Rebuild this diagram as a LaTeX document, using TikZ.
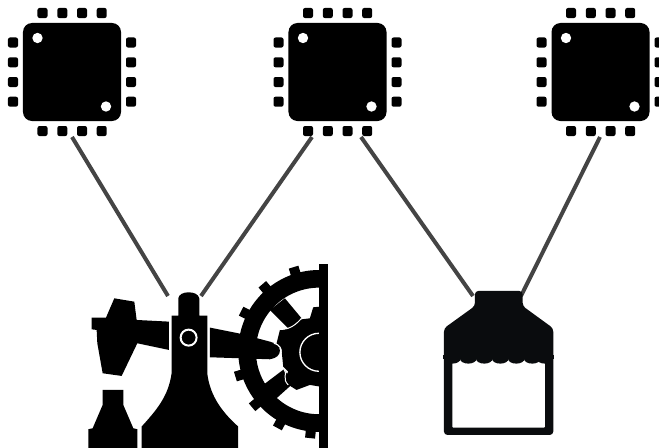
\documentclass[tikz,border=0pt]{standalone}
\usepackage{tikz}
\usetikzlibrary{calc}
\definecolor{wirecol}{HTML}{444444}
\definecolor{bottlecol}{HTML}{0A0C0E}
\tikzset{
  chipbody/.style={draw=none, fill=black, rounded corners=0.27cm, minimum size=2.94cm, inner sep=0pt},
  chippin/.style={draw=none, fill=black, rounded corners=0.06cm, minimum size=0.3cm, inner sep=0pt},
  chipdot/.style={circle, draw=none, fill=white, minimum size=0.31cm, inner sep=0pt},
  wire/.style={draw=wirecol, line width=0.12cm},
  seam/.style={draw=white, line width=0.03cm}
}

\begin{document}
\begin{tikzpicture}[x=0.03cm, y=-0.03cm]
  \useasboundingbox (0,0) rectangle (659,448);

  % Define nodes

  \foreach \name/\cx in {chipa/72, chipb/337.5, chipc/600.5} {
    \node[chipbody] (\name) at (\cx, 72) {};
    \node[chipdot] (\name-dota) at (\cx-34.5, 38) {};
    \node[chipdot] (\name-dotb) at (\cx+34, 106.5) {};
    \foreach \i/\off in {1/-29.5, 2/-9.7, 3/10, 4/29.7} {
      \node[chippin] (\name-top\i) at (\cx+\off, 13) {};
      \node[chippin] (\name-bot\i) at (\cx+\off, 131) {};
      \node[chippin] (\name-lft\i) at (\cx-59, 72+\off) {};
      \node[chippin] (\name-rgt\i) at (\cx+59, 72+\off) {};
    }
  }

  \coordinate (chipaout) at (72, 137);
  \coordinate (chipbouta) at (312, 137);
  \coordinate (chipboutb) at (361, 137);
  \coordinate (chipcout) at (600, 137);
  \coordinate (pumpl) at (168, 296);
  \coordinate (pumpr) at (201, 296);
  \coordinate (bottlel) at (473, 296);
  \coordinate (bottler) at (521, 296);

  % Draw wires
  \draw[wire] (chipaout) -- (pumpl);
  \draw[wire] (chipbouta) -- (pumpr);
  \draw[wire] (chipboutb) -- (bottlel);
  \draw[wire] (chipcout) -- (bottler);

  % Pump with gear wheel
  \begin{scope}[shift={(80,250)}, x=0.01cm, y=-0.01cm]
    \begin{scope}
      \clip (400,0) rectangle (717,594);
      \fill[black, even odd rule] (718,303) circle (243) (718,303) circle (190);
      \foreach \a in {107, 130.5, 153, 197, 220, 241.5, 264} {
        \draw[black, line width=0.3cm] ($(718,303)+(-\a:235)$) -- ($(718,303)+(-\a:263)$);
      }
      \fill[black] (570,180) -- (615,145) -- (665,205) -- (630,240) -- cycle;
      \fill[black] (550,405) -- (612,358) -- (640,400) -- (590,445) -- cycle;
      \fill[black] (720,170) -- (700,172) -- (690,205) -- (650,210) -- (630,236) -- (600,240)
        -- (590,280) -- (605,300) -- (610,350) -- (625,365) -- (610,395) -- (650,420)
        -- (690,405) -- (720,410) -- cycle;
      \draw[seam, line width=0.04cm] (717,250) arc[start angle=-90, end angle=-270, radius=57];
      \draw[seam] (665,205) .. controls (650,222) and (630,240) .. (600,238);
      \draw[seam] (612,358) .. controls (625,370) and (605,385) .. (625,405);
    \end{scope}
    \fill[black] (390,233) -- (475,250) -- (570,275) .. controls (590,280) and (600,290) .. (600,302)
      .. controls (600,315) and (590,325) .. (570,328) -- (390,322) -- cycle;
    \draw[seam] (582,280) .. controls (600,285) and (606,295) .. (604,310);
    \fill[black] (717,42) rectangle (744,594);
    \fill[black] (295,197) -- (295,145) .. controls (297,133) and (310,127) .. (326,127)
      .. controls (342,127) and (356,133) .. (358,145) -- (358,197) -- (382,197) -- (382,370)
      .. controls (390,440) and (430,490) .. (475,530) -- (475,594) -- (185,594) -- (185,530)
      .. controls (230,480) and (265,440) .. (275,370) -- (275,197) -- cycle;
    \draw[white, line width=0.06cm] (326,263) circle (24);
    \fill[black] (35,203) -- (78,203) -- (103,145) -- (163,155) -- (170,210) -- (267,215)
      -- (267,300) -- (172,280) -- (125,378) -- (68,370) -- (52,280) -- (50,240) -- (35,238) -- cycle;
    \fill[black] (68,420) -- (130,420) -- (130,465) -- (160,535) -- (172,538) -- (172,594)
      -- (25,594) -- (25,538) -- (38,535) -- (68,465) -- cycle;
  \end{scope}

  % Bottle
  \begin{scope}[shift={(430,280)}, x=0.01cm, y=-0.01cm]
    \fill[bottlecol, rounded corners=0.1cm] (135,33) -- (278,33) -- (278,78) -- (370,145)
      -- (370,465) -- (42,465) -- (42,145) -- (135,78) -- cycle;
    \fill[white, rounded corners=0.03cm] (67,236) -- (345,236) -- (345,443) -- (67,443) -- cycle;
    \foreach \bx in {67, 115, 163, 211, 259, 307, 345} {
      \fill[bottlecol] (\bx,236) ellipse (25 and 15);
    }
    \fill[bottlecol] (40,225) rectangle (372,236);
    \fill[bottlecol] (42,230) rectangle (67,300);
    \fill[bottlecol] (345,230) rectangle (370,300);
  \end{scope}
\end{tikzpicture}
\end{document}
